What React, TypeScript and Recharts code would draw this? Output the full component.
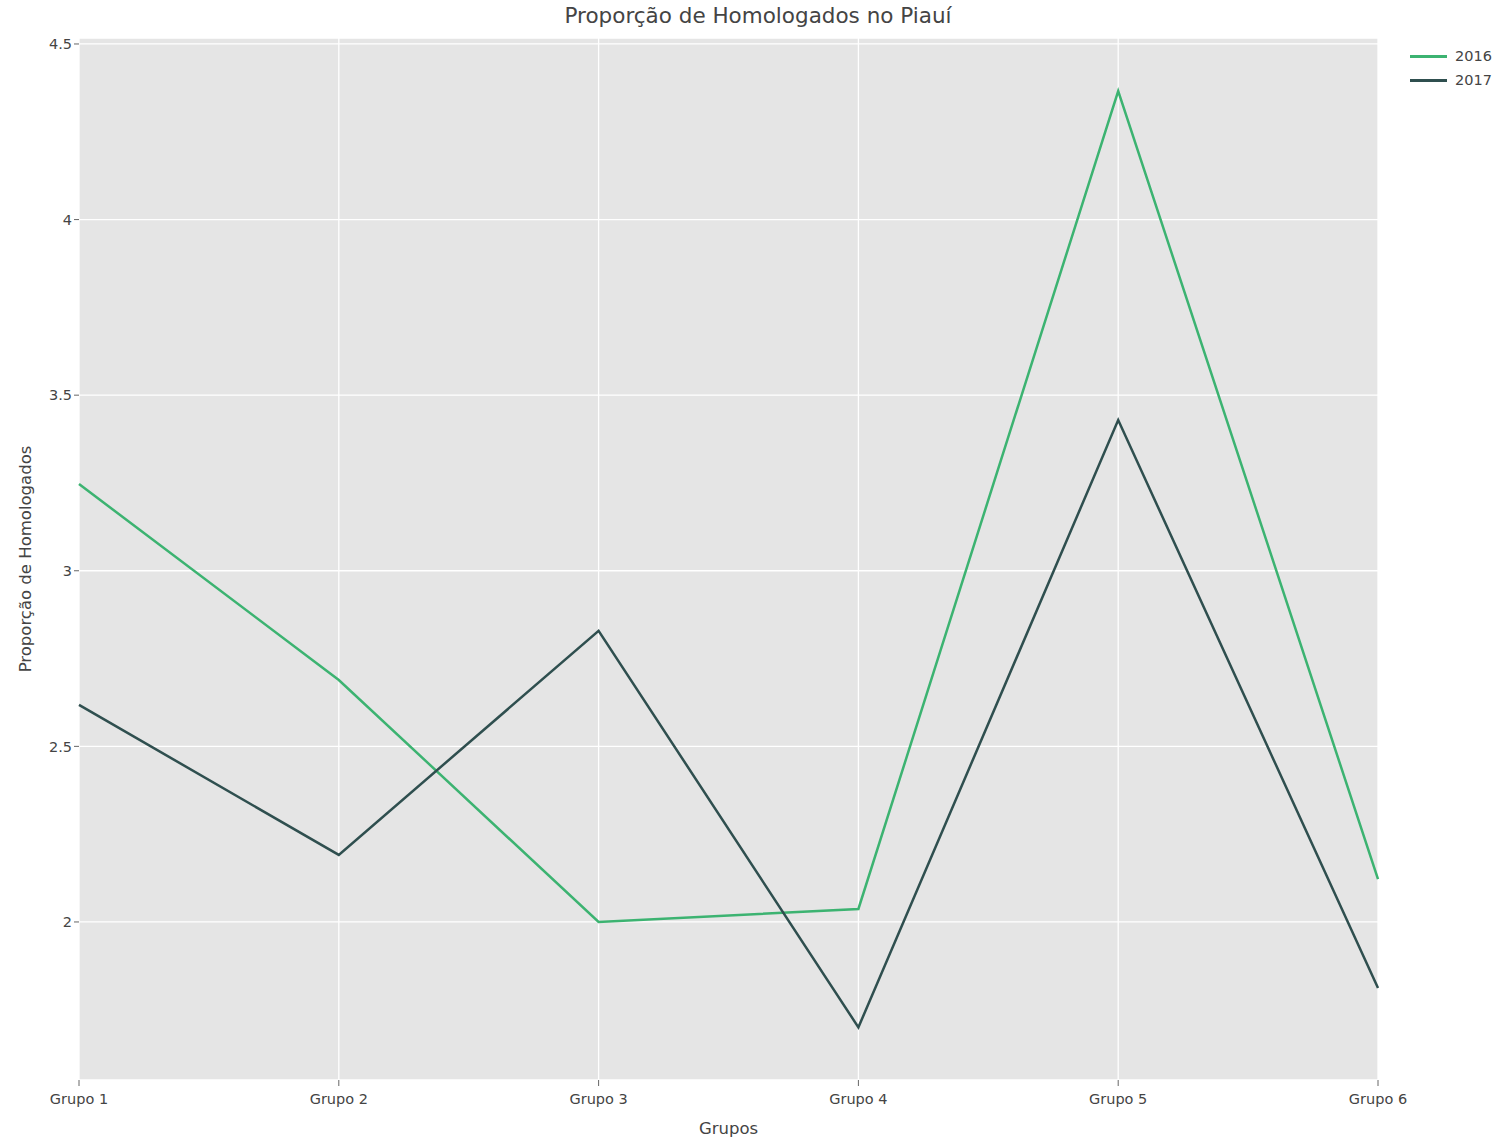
import { LineChart, Line, XAxis, YAxis, CartesianGrid } from "recharts";

const grupos = ["Grupo 1", "Grupo 2", "Grupo 3", "Grupo 4", "Grupo 5", "Grupo 6"];
const serie2016 = [3.247, 2.689, 2.0, 2.037, 4.366, 2.122];
const serie2017 = [2.618, 2.191, 2.829, 1.7, 3.429, 1.812];
const yTicks = [2, 2.5, 3, 3.5, 4, 4.5];

const chartData = grupos.map((g, i) => ({ grupo: g, "2016": serie2016[i], "2017": serie2017[i] }));

const font = "'DejaVu Sans', Verdana, sans-serif";
const textColor = "#444";

export default function App() {
  return (
    <div style={{ position: "absolute", left: 0, top: 0, width: 1496, height: 1139, background: "#fff", fontFamily: font }}>
      <div
        style={{
          position: "absolute",
          top: 3,
          left: 0,
          width: 1516,
          textAlign: "center",
          fontSize: 21.5,
          color: textColor,
        }}
      >
        Proporção de Homologados no Piauí
      </div>
      <LineChart width={1496} height={1139} data={chartData} margin={{ top: 38, right: 118, bottom: 0, left: 19 }}>
        <CartesianGrid fill="#e5e5e5" stroke="#fff" strokeWidth={1.3} />
        <XAxis
          dataKey="grupo"
          axisLine={false}
          tickLine={{ stroke: "#666" }}
          tickSize={6}
          tickMargin={8}
          tick={{ fontSize: 14.5, fontFamily: font, fill: textColor }}
          height={59}
          label={{ value: "Grupos", position: "insideBottom", offset: 5, fontSize: 16.5, fontFamily: font, fill: textColor }}
        />
        <YAxis
          type="number"
          domain={[1.55, 4.517]}
          ticks={yTicks}
          allowDataOverflow
          axisLine={false}
          tickLine={{ stroke: "#666" }}
          tickSize={5}
          tick={{ fontSize: 14.5, fontFamily: font, fill: textColor }}
          width={60}
          label={{
            value: "Proporção de Homologados",
            angle: -90,
            position: "insideLeft",
            offset: 6,
            style: { textAnchor: "middle" },
            fontSize: 16.5,
            fontFamily: font,
            fill: textColor,
          }}
        />
        <Line dataKey="2016" stroke="#3cb371" strokeWidth={2.5} dot={false} isAnimationActive={false} />
        <Line dataKey="2017" stroke="#2f4f4f" strokeWidth={2.5} dot={false} isAnimationActive={false} />
      </LineChart>
      {[
        { name: "2016", color: "#3cb371", top: 48 },
        { name: "2017", color: "#2f4f4f", top: 72 },
      ].map((item) => (
        <div key={item.name} style={{ position: "absolute", left: 1410, top: item.top, display: "flex", alignItems: "center" }}>
          <div style={{ width: 37, height: 3, background: item.color }} />
          <span style={{ marginLeft: 8, fontSize: 14.5, color: textColor }}>{item.name}</span>
        </div>
      ))}
    </div>
  );
}
